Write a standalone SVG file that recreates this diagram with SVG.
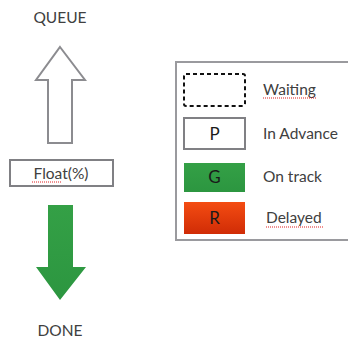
<svg xmlns="http://www.w3.org/2000/svg" width="348" height="339" viewBox="0 0 348 339">
<style>
.t{font-family:Lato,"Open Sans","Liberation Sans",sans-serif;font-size:15.5px;fill:#404040}
.c{text-anchor:middle}
.k{font-size:17px;fill:#1a1a1a}
.sq{stroke:#e02020;stroke-width:1.2;stroke-dasharray:1 1;fill:none}
</style>
<defs>
<linearGradient id="gr" x1="0" y1="0" x2="0" y2="1"><stop offset="0" stop-color="#34a046"/><stop offset="1" stop-color="#2c9640"/></linearGradient>
<linearGradient id="rd" x1="0" y1="0" x2="0" y2="1"><stop offset="0" stop-color="#f44c12"/><stop offset="1" stop-color="#d02c06"/></linearGradient>
</defs>
<rect width="348" height="339" fill="#fff"/>
<g id="queue"><text class="t c" x="60" y="23">QUEUE</text></g>
<g id="up-arrow"><polygon points="60,47 85,80 72,80 72,143 48,143 48,80 36,80" fill="#fff" stroke="#8c8c90" stroke-width="2"/></g>
<g id="float"><rect x="10" y="160" width="103" height="26" fill="#fff" stroke="#808084" stroke-width="2"/><text class="t c" x="61" y="179">Float(%)</text><line class="sq" x1="32" y1="182" x2="61" y2="182"/></g>
<g id="down-arrow"><polygon points="48,205 73,205 73,267 86,267 60,300 36,267 48,267" fill="url(#gr)"/></g>
<g id="done"><text class="t c" x="60" y="336">DONE</text></g>
<g id="legend">
<rect x="176" y="62" width="190" height="178" fill="#fff" stroke="#9a9a9e" stroke-width="2"/>
<rect x="184" y="74" width="61" height="32" rx="2" fill="#fff" stroke="#111" stroke-width="2" stroke-dasharray="4 3"/>
<text class="t" x="263" y="95">Waiting</text><line class="sq" x1="263" y1="98" x2="316" y2="98"/>
<rect x="184" y="118" width="61" height="31" fill="#fff" stroke="#808084" stroke-width="2"/>
<text class="t c k" x="214.5" y="140">P</text>
<text class="t" x="263" y="139">In Advance</text>
<rect x="184" y="163" width="61" height="29" fill="url(#gr)"/>
<text class="t c k" x="214.5" y="183">G</text>
<text class="t" x="263" y="182">On track</text>
<rect x="184" y="202" width="61" height="32" fill="url(#rd)"/>
<text class="t c k" x="214.5" y="224">R</text>
<text class="t" x="266" y="223">Delayed</text><line class="sq" x1="266" y1="227" x2="323" y2="227"/>
</g>
</svg>
